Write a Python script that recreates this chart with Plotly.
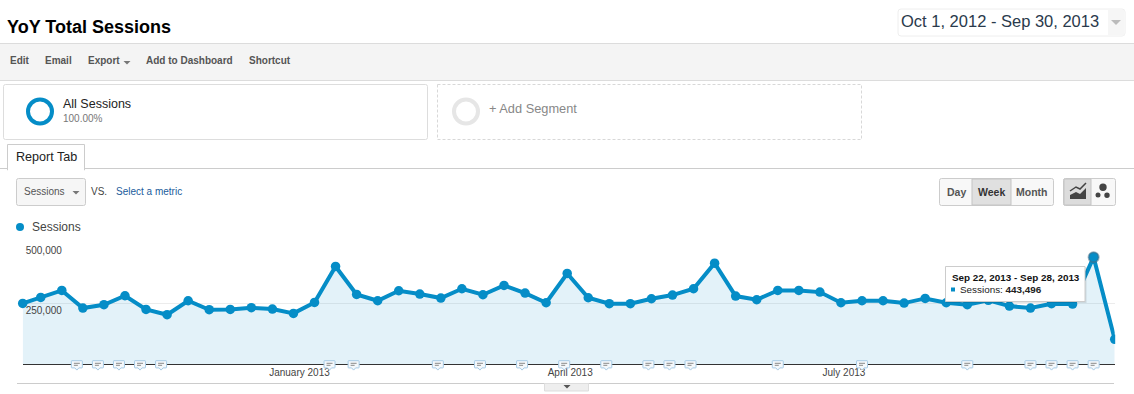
import plotly.graph_objects as go

W, H = 1134, 394

week_starts = [
    "2012-10-01", "2012-10-07", "2012-10-14", "2012-10-21", "2012-10-28",
    "2012-11-04", "2012-11-11", "2012-11-18", "2012-11-25",
    "2012-12-02", "2012-12-09", "2012-12-16", "2012-12-23", "2012-12-30",
    "2013-01-06", "2013-01-13", "2013-01-20", "2013-01-27",
    "2013-02-03", "2013-02-10", "2013-02-17", "2013-02-24",
    "2013-03-03", "2013-03-10", "2013-03-17", "2013-03-24", "2013-03-31",
    "2013-04-07", "2013-04-14", "2013-04-21", "2013-04-28",
    "2013-05-05", "2013-05-12", "2013-05-19", "2013-05-26",
    "2013-06-02", "2013-06-09", "2013-06-16", "2013-06-23", "2013-06-30",
    "2013-07-07", "2013-07-14", "2013-07-21", "2013-07-28",
    "2013-08-04", "2013-08-11", "2013-08-18", "2013-08-25",
    "2013-09-01", "2013-09-08", "2013-09-15", "2013-09-22", "2013-09-29",
]
sessions = [
    252000, 276900, 305800, 232800, 246600, 283700, 227300, 205200, 263100,
    225900, 227300, 234200, 228600, 210700, 256200, 405000, 289300, 263100,
    304400, 290600, 274100, 312700, 287900, 326400, 294800, 254800, 376000,
    275500, 250700, 250700, 271300, 286500, 312700, 418700, 282400, 267200,
    305800, 305800, 298900, 254800, 263100, 263100, 253400, 272700, 254800,
    246600, 265000, 241000, 232800, 250700, 249300, 443496, 103300,
]
annotation_dates = [
    "2012-10-19", "2012-10-26", "2012-11-02", "2012-11-09", "2012-11-16",
    "2013-01-11", "2013-01-19", "2013-02-16", "2013-03-02", "2013-03-16",
    "2013-03-30", "2013-04-13", "2013-04-27", "2013-05-04", "2013-05-11",
    "2013-06-09", "2013-07-07", "2013-08-11", "2013-09-01", "2013-09-08",
    "2013-09-15", "2013-09-22",
]
x_tick_dates = ["2013-01-01", "2013-04-01", "2013-07-01"]
x_tick_labels = ["January 2013", "April 2013", "July 2013"]
y_tick_values = [250000, 500000]
y_tick_labels = ["250,000", "500,000"]
highlight_index = 51

BLUE = "#058dc7"
FONT = "Liberation Sans, Arial, sans-serif"


def px(x):
    return x / W


def py(y):
    return 1 - y / H


shapes, notes = [], []


def text(x, y, s, size=11, color="#444", anchor="left"):
    notes.append(dict(x=px(x), y=py(y), xref="paper", yref="paper", text=s,
                      showarrow=False, xanchor=anchor, yanchor="middle",
                      font=dict(family=FONT, size=size, color=color),
                      borderpad=0, borderwidth=0))


def rect(x0, y0, x1, y1, fill=None, line=None, width=1, r=0, dash=None, layer="below"):
    if r:
        d = (f"M{px(x0+r)},{py(y0)} L{px(x1-r)},{py(y0)} Q{px(x1)},{py(y0)} {px(x1)},{py(y0+r)} "
             f"L{px(x1)},{py(y1-r)} Q{px(x1)},{py(y1)} {px(x1-r)},{py(y1)} "
             f"L{px(x0+r)},{py(y1)} Q{px(x0)},{py(y1)} {px(x0)},{py(y1-r)} "
             f"L{px(x0)},{py(y0+r)} Q{px(x0)},{py(y0)} {px(x0+r)},{py(y0)} Z")
        geo = dict(type="path", path=d)
    else:
        geo = dict(type="rect", x0=px(x0), x1=px(x1), y0=py(y0), y1=py(y1))
    shapes.append(dict(**geo, xref="paper", yref="paper", layer=layer,
                       fillcolor=fill or "rgba(0,0,0,0)",
                       line=dict(color=line or "rgba(0,0,0,0)", width=width if line else 0,
                                 dash=dash or "solid")))


def hline(x0, x1, y, color, width=1, layer="below"):
    shapes.append(dict(type="line", xref="paper", yref="paper", layer=layer,
                       x0=px(x0), x1=px(x1), y0=py(y), y1=py(y),
                       line=dict(color=color, width=width)))


def ring(cx, cy, r, color, width=0, fill=None):
    shapes.append(dict(type="circle", xref="paper", yref="paper", layer="below",
                       x0=px(cx - r), x1=px(cx + r), y0=py(cy + r), y1=py(cy - r),
                       fillcolor=fill or "rgba(0,0,0,0)",
                       line=dict(color=color, width=width)))


def poly(points, fill=None, line=None, width=0, layer="below", close=True):
    d = "M" + " L".join(f"{px(a)},{py(b)}" for a, b in points) + (" Z" if close else "")
    shapes.append(dict(type="path", path=d, xref="paper", yref="paper", layer=layer,
                       fillcolor=fill or "rgba(0,0,0,0)",
                       line=dict(color=line or "rgba(0,0,0,0)", width=width)))


# header
text(7, 27, "<b>YoY Total Sessions</b>", 18, "#000")
rect(898, 9, 1125, 36, fill="#fff", line="#eeeeee", r=3)
rect(1108, 10, 1124.5, 35.5, fill="#f6f6f6")
text(901, 21, "Oct 1, 2012 - Sep 30, 2013", 16.5, "#2a3a4c")
poly([(1111, 20), (1121, 20), (1116, 25)], fill="#bbbbbb")

# toolbar
rect(0, 43, W, 80, fill="#f4f4f4")
hline(0, W, 43.5, "#dcdcdc")
hline(0, W, 80.5, "#dcdcdc")
for x, s in [(10, "Edit"), (45, "Email"), (87.5, "Export"), (146, "Add to Dashboard"), (249, "Shortcut")]:
    text(x, 60.5, f"<b>{s}</b>", 10, "#555")
poly([(123.5, 61), (130.5, 61), (127, 64.5)], fill="#777")

# segments
rect(3.5, 84.5, 427.5, 139.5, fill="#fff", line="#dddddd", r=2)
rect(437.5, 84.5, 861.5, 139.5, fill="#fff", line="#d8d8d8", dash="3px,2px")
ring(40, 111.5, 12, BLUE, 4)
ring(466, 111.5, 12, "#e6e6e6", 4)
text(63, 104.5, "All Sessions", 12.5, "#222")
text(63, 118, "100.00%", 10, "#777")
text(489, 108.5, "+ Add Segment", 12.8, "#888")

# tab
hline(0, W, 168.5, "#cccccc")
rect(7.5, 144.5, 84.5, 170, fill="#fff", line="#cccccc")
rect(8, 167, 84, 171, fill="#fff")
text(16, 157, "Report Tab", 12.6, "#222")

# metric selector
rect(16.5, 178.5, 85.5, 205.5, fill="#f6f6f6", line="#cccccc", r=2)
text(24, 191.5, "Sessions", 10, "#555")
poly([(72.5, 191), (79.5, 191), (76, 194.5)], fill="#777")
text(91, 191.5, "VS.", 10, "#444")
text(116, 191.5, "Select a metric", 10, "#1a5c9c")

# granularity buttons
rect(939.5, 178.5, 1053.5, 205.5, fill="#f8f8f8", line="#cccccc", r=2)
rect(972, 179, 1011, 205, fill="#e0e0e0", line="#c4c4c4")
text(956, 192, "<b>Day</b>", 10.5, "#555", "center")
text(991, 192, "<b>Week</b>", 10.5, "#333", "center")
text(1032, 192, "<b>Month</b>", 10.5, "#555", "center")

# chart type buttons
rect(1063.5, 178.5, 1115.5, 205.5, fill="#f8f8f8", line="#cccccc", r=2)
rect(1064, 179, 1091, 205, fill="#dcdcdc", line="#c4c4c4")
poly([(1070, 199), (1070, 195), (1076, 192), (1080, 194), (1086, 188), (1086, 199)], fill="#444")
poly([(1070, 191), (1076, 187), (1080, 189), (1086, 183)], line="#444", width=1.5, close=False)
ring(1103, 187.3, 3.7, "#444", 0, "#444")
ring(1098, 195, 2.5, "#444", 0, "#444")
ring(1107, 195.3, 2.7, "#444", 0, "#444")

# legend
ring(20, 227, 4, BLUE, 0, BLUE)
text(32, 227, "Sessions", 12, "#444")

# bottom rule and drawer handle
hline(17, 1114, 383.5, "#cccccc")
rect(544.5, 383.5, 588.5, 391, fill="#eeeeee", line="#dddddd")
poly([(563.5, 385), (570.5, 385), (567, 388.5)], fill="#555")

# mask that cuts the last marker at the plot edge
rect(1115.2, 325, 1125, 352, fill="#fff", layer="above")

# event bubbles sitting on the axis
for d in annotation_dates:
    common = dict(xref="x", yref="y domain", xsizemode="pixel", ysizemode="pixel",
                  xanchor=d, yanchor=0, layer="above")
    shapes.append(dict(type="path", **common,
                       path="M-5,3.6 L5,3.6 Q5.5,3.6 5.5,3 L5.5,-3 Q5.5,-3.6 5,-3.6 L2,-3.6 L0,-5.8 "
                            "L-2,-3.6 L-5,-3.6 Q-5.5,-3.6 -5.5,-3 L-5.5,3 Q-5.5,3.6 -5,3.6 Z",
                       fillcolor="#f4f8fb", line=dict(color="#a6cbe6", width=1)))
    shapes.append(dict(type="path", **common, path="M-3,1 L3,1 M-3,-1 L1,-1",
                       line=dict(color="#8a8a8a", width=1)))

# tooltip
rect(946, 267, 1086.5, 303, fill="rgba(0,0,0,0.10)", layer="above")
rect(945.5, 266.5, 1085, 301.5, fill="#fff", line="#cccccc", layer="above")
rect(951, 287.5, 955, 291.5, fill=BLUE, layer="above")
text(952, 277.5, "<b>Sep 22, 2013 - Sep 28, 2013</b>", 9.9, "#111")
text(960, 289.5, "Sessions: <b>443,496</b>", 9.9, "#222")

fig = go.Figure()
fig.add_trace(go.Scatter(
    x=week_starts, y=sessions, mode="lines+markers", fill="tozeroy",
    fillcolor="rgba(5,141,199,0.115)", cliponaxis=False, hoverinfo="skip",
    line=dict(color=BLUE, width=4), marker=dict(color=BLUE, size=9.5),
))
fig.add_trace(go.Scatter(
    x=[week_starts[highlight_index]], y=[sessions[highlight_index]], mode="markers",
    cliponaxis=False, hoverinfo="skip",
    marker=dict(color=BLUE, size=10, line=dict(color="rgba(70,110,135,0.55)", width=2)),
))

fig.update_layout(
    width=W, height=H, autosize=False, showlegend=False,
    margin=dict(l=0, r=0, t=0, b=0, pad=0),
    paper_bgcolor="#fff", plot_bgcolor="rgba(0,0,0,0)",
    font=dict(family=FONT),
    shapes=shapes, annotations=notes,
    xaxis=dict(
        domain=[px(22.7), px(1114.7)], type="date",
        range=[week_starts[0], week_starts[-1]],
        tickmode="array", tickvals=x_tick_dates, ticktext=x_tick_labels,
        ticks="", showgrid=False, zeroline=False,
        showline=True, linecolor="#333333", linewidth=1,
        ticklabelstandoff=-1,
        tickfont=dict(family=FONT, size=10, color="#444"),
    ),
    yaxis=dict(
        domain=[1 - 364.3 / H, 1 - 243.5 / H], range=[0, 500000],
        tickmode="array", tickvals=y_tick_values, ticktext=y_tick_labels,
        ticks="", ticklabelposition="inside", ticklabelshift=7,
        showgrid=True, gridcolor="#ececec", gridwidth=1,
        zeroline=False, showline=False,
        tickfont=dict(family=FONT, size=10, color="#444"),
    ),
)

fig.write_html(
    "out.html",
    config={"displayModeBar": False},
    post_script="document.body.style.margin='0';document.body.style.overflow='hidden';",
)
